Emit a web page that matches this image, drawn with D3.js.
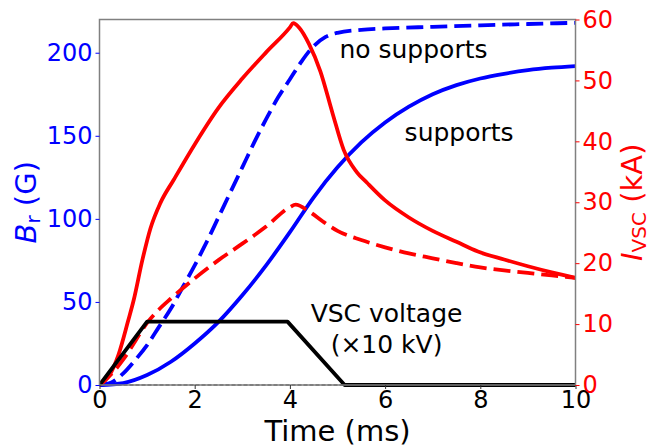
<!DOCTYPE html>
<html>
<head>
<meta charset="utf-8">
<script src="https://cdn.jsdelivr.net/npm/d3@7"></script>
<style>
  html, body { margin: 0; padding: 0; background: #fff; }
  svg { display: block; font-family: "DejaVu Sans", sans-serif; }
</style>
</head>
<body>
<svg id="chart" width="647" height="445"></svg>
<script>
// Radial field B_r (G) with and without supports
const timeBNoSup = [0, 0.25, 0.5, 0.75, 1.0, 1.25, 1.5, 1.75, 2.0, 2.25, 2.5, 2.75, 3.0, 3.25, 3.5, 3.75, 4.0, 4.25, 4.5, 4.75, 5.0, 5.5, 6, 7, 8, 9, 10];
const bNoSupports = [0, 1.5, 7, 15, 24, 35, 46, 59, 72, 86, 101, 116, 131, 146, 160, 173, 184, 195, 204, 209.5, 212, 213.8, 214.6, 215.6, 216.5, 217.3, 218];

const timeBSup = [0, 0.5, 1.0, 1.5, 2.0, 2.5, 3.0, 3.5, 4.0, 4.5, 5.0, 5.5, 6.0, 6.5, 7.0, 7.5, 8.0, 8.5, 9.0, 9.5, 10];
const bSupports = [0, 1.2, 6, 14, 25, 38, 54, 72, 92, 113, 131, 146, 158, 167.5, 175, 180.5, 184.5, 187.3, 189.5, 191, 192];

// VSC current I_VSC (kA)
const timeINoSup = [0, 0.2, 0.4, 0.6, 0.72, 0.9, 1.07, 1.28, 1.56, 2.0, 2.5, 3.0, 3.5, 4.0, 4.07, 4.2, 4.4, 4.64, 4.9, 5.13, 5.4, 5.62, 6.0, 6.5, 7.0, 7.5, 7.95, 8.5, 9.0, 9.5, 10];
const iNoSupports = [0, 1.5, 5, 10.5, 14, 20.5, 25.7, 29.9, 33.7, 39.5, 45.5, 50.3, 54.6, 58.7, 59.4, 58.6, 56, 51.5, 44.5, 38.6, 35, 33.2, 30.3, 27.5, 25.3, 23.5, 21.9, 20.6, 19.5, 18.5, 17.6];

const timeISup = [0, 0.25, 0.5, 0.75, 1.0, 1.25, 1.5, 2.0, 2.5, 3.0, 3.5, 4.0, 4.12, 4.4, 4.7, 5.0, 5.5, 6.0, 6.5, 7.0, 7.5, 8.0, 8.5, 9.0, 9.5, 10];
const iSupports = [0, 1.8, 4.2, 7.2, 10.2, 12.4, 14.2, 17.5, 20.5, 23.2, 26, 29.2, 29.6, 28.5, 26.8, 25.3, 23.8, 22.6, 21.6, 20.8, 20.0, 19.3, 18.8, 18.4, 18.0, 17.6];

// VSC voltage (x10 kV), drawn against the current axis
const timeV = [0, 1.0, 3.95, 5.15, 10];
const voltage = [0, 10.4, 10.4, 0, 0];

const xTicks = [0, 2, 4, 6, 8, 10];
const bTicks = [0, 50, 100, 150, 200];
const iTicks = [0, 10, 20, 30, 40, 50, 60];

const svg = d3.select("#chart");
const m = { left: 99.5, right: 575.5, top: 19.5, bottom: 385 };

const x = d3.scaleLinear().domain([0, 10]).range([m.left, m.right]);
const yB = d3.scaleLinear().domain([0, 220]).range([m.bottom, m.top]);
const yI = d3.scaleLinear().domain([0, 60]).range([m.bottom, m.top]);

const BLUE = "#0000ff", RED = "#ff0000";
const LW = 3.8, DASH = "17,7";

// zero reference line
svg.append("line")
  .attr("x1", x(0)).attr("x2", x(10))
  .attr("y1", yB(0)).attr("y2", yB(0))
  .attr("stroke", "#000").attr("stroke-width", 1)
  .attr("stroke-dasharray", "4,2");

const smooth = (ts, vs, y) => d3.line()
  .x((d, i) => x(ts[i])).y(d => y(d))
  .curve(d3.curveMonotoneX)(vs);

const series = [
  { d: smooth(timeBNoSup, bNoSupports, yB), c: BLUE, dash: DASH },
  { d: smooth(timeBSup, bSupports, yB), c: BLUE, dash: null },
  { d: smooth(timeISup, iSupports, yI), c: RED, dash: DASH },
  { d: smooth(timeINoSup, iNoSupports, yI), c: RED, dash: null },
  { d: d3.line().x((d, i) => x(timeV[i])).y(d => yI(d))(voltage), c: "#000", dash: null }
];

svg.append("defs").append("clipPath").attr("id", "plotclip")
  .append("rect").attr("x", m.left).attr("y", m.top - 3)
  .attr("width", m.right - m.left + 3).attr("height", m.bottom - m.top + 6);

const g = svg.append("g").attr("clip-path", "url(#plotclip)");
series.forEach(s => {
  g.append("path").attr("d", s.d)
    .attr("fill", "none").attr("stroke", s.c).attr("stroke-width", LW)
    .attr("stroke-linejoin", "round")
    .attr("stroke-dasharray", s.dash);
});

// frame
svg.append("rect")
  .attr("x", m.left).attr("y", m.top)
  .attr("width", m.right - m.left).attr("height", m.bottom - m.top)
  .attr("fill", "none").attr("stroke", "#808080").attr("stroke-width", 1.5);

// axes
const tickFont = 24;
const ax = svg.append("g").attr("transform", `translate(0,${m.bottom})`)
  .call(d3.axisBottom(x).tickValues(xTicks).tickFormat(d3.format("d")).tickSizeOuter(0).tickSize(4).tickPadding(2));
ax.select(".domain").remove();
ax.selectAll("line").attr("stroke", "#333");
ax.selectAll("text").attr("font-size", tickFont).attr("fill", "#000").attr("font-family", "DejaVu Sans");

const al = svg.append("g").attr("transform", `translate(${m.left},0)`)
  .call(d3.axisLeft(yB).tickValues(bTicks).tickFormat(d3.format("d")).tickSizeOuter(0).tickSize(4).tickPadding(3));
al.select(".domain").remove();
al.selectAll("line").attr("stroke", BLUE);
al.selectAll("text").attr("font-size", tickFont).attr("fill", BLUE).attr("font-family", "DejaVu Sans");

const ar = svg.append("g").attr("transform", `translate(${m.right},0)`)
  .call(d3.axisRight(yI).tickValues(iTicks).tickFormat(d3.format("d")).tickSizeOuter(0).tickSize(4).tickPadding(3));
ar.select(".domain").remove();
ar.selectAll("line").attr("stroke", RED);
ar.selectAll("text").attr("font-size", tickFont).attr("fill", RED).attr("font-family", "DejaVu Sans");

// axis titles
svg.append("text").attr("x", (m.left + m.right) / 2).attr("y", 441)
  .attr("text-anchor", "middle").attr("font-size", 29).attr("fill", "#000")
  .text("Time (ms)");

const lt = svg.append("text")
  .attr("transform", `translate(36,${(m.top + m.bottom) / 2}) rotate(-90)`)
  .attr("text-anchor", "middle").attr("font-size", 29).attr("fill", BLUE);
lt.append("tspan").attr("font-style", "italic").text("B");
lt.append("tspan").attr("font-size", 20).attr("dy", 4).text("r");
lt.append("tspan").attr("dy", -4).text(" (G)");

const rt = svg.append("text")
  .attr("transform", `translate(642,${(m.top + m.bottom) / 2}) rotate(-90)`)
  .attr("text-anchor", "middle").attr("font-size", 29).attr("fill", RED);
rt.append("tspan").attr("font-style", "italic").text("I");
rt.append("tspan").attr("font-size", 20).attr("dy", 4).text("VSC");
rt.append("tspan").attr("dy", -4).text(" (kA)");

// annotations
const ann = (t, v, s, anchor) => svg.append("text")
  .attr("x", x(t)).attr("y", yB(v)).attr("text-anchor", anchor || "start")
  .attr("font-size", 25).attr("fill", "#000").text(s);
ann(5.04, 197, "no supports");
ann(6.41, 147, "supports");
ann(6.03, 38, "VSC voltage", "middle");
ann(6.03, 19.3, "(×10 kV)", "middle");
</script>
</body>
</html>
